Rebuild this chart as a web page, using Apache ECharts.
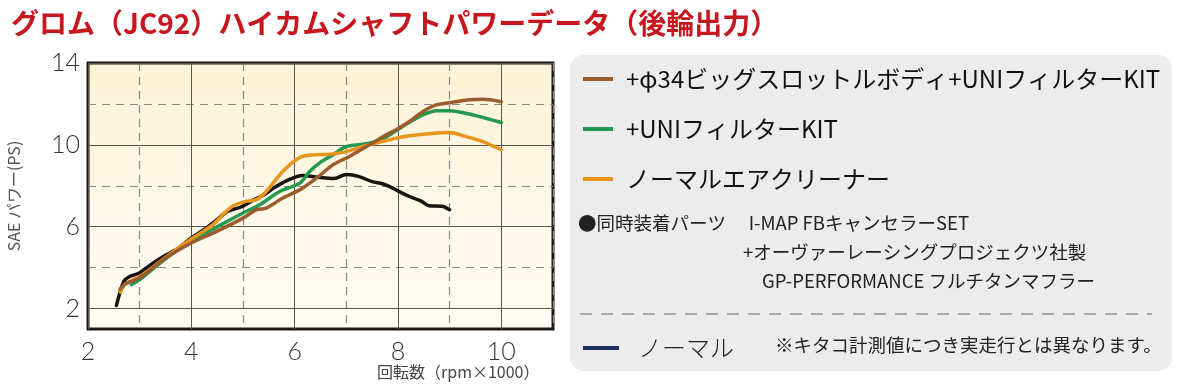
<!DOCTYPE html>
<html>
<head>
<meta charset="utf-8">
<script src="https://cdn.jsdelivr.net/npm/echarts@6/dist/echarts.min.js"></script>
<style>
  html, body { margin: 0; padding: 0; background: #fff; }
  #chart { width: 1185px; height: 386px; }
</style>
</head>
<body>
<div id="chart"></div>
<script>
// rpm (x1000) / PS readings, per curve
const rpmNormal = [2.55, 2.62, 2.7, 2.8, 3.0, 3.25, 3.5, 3.75, 4.0, 4.3, 4.5, 4.7, 4.95, 5.2, 5.4, 5.6, 5.85, 6.15, 6.5, 6.75, 7.0, 7.25, 7.5, 7.7, 7.85, 8.0, 8.2, 8.45, 8.6, 8.85, 9.0];
const psNormal = [2.15, 2.8, 3.35, 3.55, 3.75, 4.2, 4.6, 4.95, 5.45, 5.95, 6.35, 6.75, 6.95, 7.3, 7.55, 7.9, 8.25, 8.5, 8.4, 8.35, 8.55, 8.45, 8.2, 8.1, 7.95, 7.75, 7.5, 7.25, 7.02, 7.0, 6.83];

const rpmAirCleaner = [2.63, 2.72, 3.0, 3.5, 4.0, 4.42, 4.61, 4.81, 5.07, 5.26, 5.45, 5.77, 6.1, 6.36, 6.68, 7.0, 7.32, 7.64, 7.97, 8.22, 8.61, 9.0, 9.32, 9.64, 10.0];
const psAirCleaner = [2.8, 3.2, 3.55, 4.5, 5.4, 6.1, 6.59, 7.02, 7.25, 7.32, 7.72, 8.7, 9.38, 9.51, 9.54, 9.67, 9.92, 10.13, 10.33, 10.44, 10.54, 10.6, 10.4, 10.16, 9.76];

const rpmUni = [2.84, 3.0, 3.52, 4.0, 4.49, 5.0, 5.32, 5.71, 6.1, 6.29, 6.48, 6.74, 7.0, 7.32, 7.64, 7.84, 7.97, 8.22, 8.48, 8.74, 9.0, 9.38, 9.7, 10.0];
const psUni = [3.17, 3.41, 4.47, 5.28, 5.98, 6.67, 7.07, 7.72, 8.13, 8.7, 9.11, 9.51, 9.92, 10.03, 10.2, 10.49, 10.7, 11.1, 11.46, 11.67, 11.67, 11.51, 11.3, 11.09];

const rpmBigThrottle = [2.62, 2.72, 3.0, 3.52, 4.0, 4.49, 5.0, 5.26, 5.45, 5.77, 6.1, 6.42, 6.74, 7.06, 7.39, 7.71, 8.03, 8.22, 8.48, 8.74, 9.0, 9.38, 9.64, 10.0];
const psBigThrottle = [2.95, 3.2, 3.5, 4.5, 5.2, 5.77, 6.42, 6.83, 6.91, 7.4, 7.8, 8.37, 9.02, 9.43, 9.92, 10.4, 10.84, 11.14, 11.62, 11.95, 12.06, 12.2, 12.23, 12.11];

const xLabels = [2, 4, 6, 8, 10];
const yLabels = [2, 6, 10, 14];

const nameBig = '+φ34ビッグスロットルボディ+UNIフィルターKIT';
const nameUni = '+UNIフィルターKIT';
const nameAir = 'ノーマルエアクリーナー';
const nameNormal = 'ノーマル';

const zip = (xs, ys) => xs.map((x, i) => [x, ys[i]]);

const JP = '"Noto Sans CJK JP", "Noto Sans", sans-serif';
const NUM = 'Lato, "Noto Sans", sans-serif';

const chart = echarts.init(document.getElementById('chart'), null, { renderer: 'canvas' });

const gridLeft = 88, gridTop = 63, gridRight = 1185 - 553, gridBottom = 386 - 329;

// solid lines on even x / 2,6,10 on y; dashed on the others (second axis, drawn below)
const baseX = {
    type: 'value', min: 2, max: 11, interval: 1,
    axisTick: { show: false },
    axisLine: { show: false },
};
const baseY = {
    type: 'value', min: 1, max: 14, interval: 1,
    axisTick: { show: false },
    axisLine: { show: false },
};

const option = {
    animation: false,
    title: {
        text: 'グロム（JC92）ハイカムシャフトパワーデータ（後輪出力）',
        left: 6, top: 4,
        textStyle: { color: '#c8161e', fontSize: 28, fontWeight: 'bold', fontFamily: JP }
    },
    grid: {
        left: gridLeft, top: gridTop, right: gridRight, bottom: gridBottom,
        show: true,
        borderColor: '#231815',
        borderWidth: 3,
        backgroundColor: {
            type: 'linear', x: 0, y: 0, x2: 0, y2: 1,
            colorStops: [
                { offset: 0, color: '#fcf2d6' },
                { offset: 1, color: '#fffdf6' }
            ]
        }
    },
    xAxis: [
        Object.assign({}, baseX, {
            z: 3,
            axisLabel: {
                interval: 0,
                margin: 10,
                fontSize: 25, color: '#333', fontFamily: NUM, fontWeight: 300,
                formatter: v => xLabels.includes(v) ? String(v) : ''
            },
            splitLine: { show: true, lineStyle: { color: ['#5e544c', 'transparent'], width: 1, type: 'solid' } }
        }),
        Object.assign({}, baseX, {
            z: 2,
            axisLabel: { show: false },
            splitLine: { show: true, lineStyle: { color: ['transparent', '#8c8782'], width: 1.2, type: [8, 6] } }
        })
    ],
    yAxis: [
        Object.assign({}, baseY, {
            z: 3,
            name: 'SAE パワー(PS)',
            nameLocation: 'middle',
            nameGap: 66,
            nameRotate: 90,
            nameTextStyle: { fontSize: 16, color: '#555', fontFamily: JP },
            axisLabel: {
                interval: 0,
                margin: 8,
                fontSize: 25, color: '#333', fontFamily: NUM, fontWeight: 300,
                formatter: v => yLabels.includes(v) ? String(v) : ''
            },
            splitLine: { show: true, lineStyle: { color: ['transparent', '#5e544c', 'transparent', 'transparent'], width: 1, type: 'solid' } }
        }),
        Object.assign({}, baseY, {
            z: 2,
            axisLabel: { show: false },
            splitLine: { show: true, lineStyle: { color: ['transparent', 'transparent', 'transparent', '#8c8782'], width: 1.2, type: [8, 6] } }
        })
    ],
    legend: [
        {
            data: [nameBig, nameUni, nameAir],
            orient: 'vertical',
            left: 578, top: 62,
            itemWidth: 30, itemHeight: 4, itemGap: 26,
            icon: 'rect',
            selectedMode: false,
            textStyle: { fontSize: 24, color: '#111', fontFamily: JP, padding: [0, 0, 0, 8] }
        },
        {
            data: [{ name: nameNormal, itemStyle: { color: '#1d2d5c' } }],
            left: 578, top: 331,
            itemWidth: 36, itemHeight: 4,
            icon: 'rect',
            selectedMode: false,
            textStyle: { fontSize: 24, color: '#222', fontFamily: JP, fontWeight: 300, padding: [0, 0, 0, 14] }
        }
    ],
    graphic: [
        {
            type: 'rect', z: -1,
            shape: { x: 570, y: 55, width: 602, height: 316, r: 14 },
            style: { fill: '#ececec' }
        },
        {
            type: 'text', left: 578, top: 214,
            style: { text: '●同時装着パーツ　 I-MAP FBキャンセラーSET', fontSize: 18.5, fill: '#222', fontFamily: JP }
        },
        {
            type: 'text', left: 743, top: 243,
            style: { text: '+オーヴァーレーシングプロジェクツ社製', fontSize: 18.5, fill: '#222', fontFamily: JP }
        },
        {
            type: 'text', left: 762, top: 272,
            style: { text: 'GP-PERFORMANCE フルチタンマフラー', fontSize: 18.5, fill: '#222', fontFamily: JP }
        },
        {
            type: 'line',
            shape: { x1: 580, y1: 314, x2: 1152, y2: 314 },
            style: { stroke: '#a9a9a9', lineWidth: 2, lineDash: [12, 9] }
        },
        {
            type: 'text', left: 775, top: 336,
            style: { text: '※キタコ計測値につき実走行とは異なります。', fontSize: 18.5, fill: '#222', fontFamily: JP }
        },
        {
            type: 'text', left: 377, top: 364,
            style: { text: '回転数（rpm×1000）', fontSize: 16, fill: '#444', fontFamily: JP }
        }
    ],
    series: [
        { name: nameNormal, color: '#1a1311', data: zip(rpmNormal, psNormal) },
        { name: nameUni, color: '#22994e', data: zip(rpmUni, psUni) },
        { name: nameAir, color: '#e8951c', data: zip(rpmAirCleaner, psAirCleaner) },
        { name: nameBig, color: '#9a5c2c', data: zip(rpmBigThrottle, psBigThrottle) }
    ].map(s => ({
        name: s.name,
        type: 'line',
        xAxisIndex: 0,
        yAxisIndex: 0,
        smooth: 0.3,
        showSymbol: false,
        color: s.color,
        lineStyle: { width: 3.5, color: s.color, cap: 'round', join: 'round' },
        data: s.data
    }))
};

chart.setOption(option);
</script>
</body>
</html>
